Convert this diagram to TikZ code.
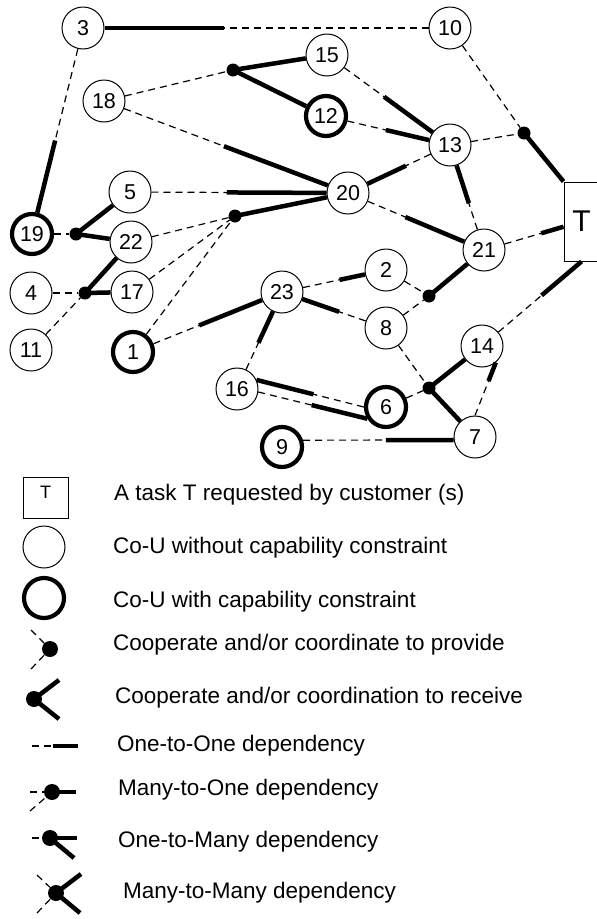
\documentclass[tikz,border=0pt]{standalone}
\usepackage{fontspec}
\setmainfont{Liberation Sans}
\usepackage{tikz}
\tikzset{
    % co-units, task box and junction dots
    unit/.style = {circle, draw, line width=1pt, minimum size=42pt, inner sep=0pt, font=\fontsize{21.5}{24}\selectfont},
    cunit/.style = {unit, line width=4.2pt, minimum size=40pt},
    task/.style = {rectangle, draw, line width=1pt, minimum width=35pt, minimum height=79pt, inner sep=0pt, font=\fontsize{30}{34}\selectfont},
    junction/.style = {circle, fill=black, inner sep=0pt, minimum size=13pt},
    keydot/.style = {junction, minimum size=16pt},
    % dependency lines
    weakdep/.style = {line width=1.2pt, dash pattern=on 7pt off 5pt},
    strongdep/.style = {line width=4.5pt},
    legendtext/.style = {anchor=west, inner sep=0pt, font=\fontsize{22.5}{26}\selectfont}
}

\begin{document}
\begin{tikzpicture}[x=1pt, y=-1pt]
\useasboundingbox (0,0) rectangle (597,919);

% Nodes
\node[unit] (unit_3) at (83,28) {3};
\node[unit] (unit_10) at (450,28) {10};
\node[unit] (unit_15) at (327,55) {15};
\node[unit] (unit_18) at (104,101) {18};
\node[cunit] (unit_12) at (326,116) {12};
\node[unit] (unit_13) at (450,145) {13};
\node[unit] (unit_20) at (348,193) {20};
\node[unit] (unit_5) at (130,192) {5};
\node[cunit] (unit_19) at (32,234) {19};
\node[unit] (unit_22) at (131,242) {22};
\node[unit] (unit_21) at (484,250) {21};
\node[task] (task_t) at (581.5,221.5) {T};
\node[unit] (unit_2) at (386,270) {2};
\node[unit] (unit_4) at (31,293) {4};
\node[unit] (unit_17) at (132,292) {17};
\node[unit] (unit_23) at (282,292) {23};
\node[unit] (unit_8) at (386,328) {8};
\node[unit] (unit_11) at (31,350) {11};
\node[cunit] (unit_1) at (133,352) {1};
\node[unit] (unit_14) at (482,346) {14};
\node[unit] (unit_16) at (237,389) {16};
\node[cunit] (unit_6) at (386,407) {6};
\node[unit] (unit_7) at (475,437) {7};
\node[cunit] (unit_9) at (282,447) {9};

\node[junction] (join_15_12) at (233,70) {};
\node[junction] (join_task) at (524,133) {};
\node[junction] (join_20) at (235,216) {};
\node[junction] (join_19) at (76,234) {};
\node[junction] (join_17) at (85,293) {};
\node[junction] (join_21) at (429,296) {};
\node[junction] (join_7) at (429,388) {};

% One-to-one dependencies
\draw[weakdep] (unit_10) -- coordinate[pos=0.63] (m_3_10) (unit_3);
\draw[strongdep] (m_3_10) -- (unit_3);
\draw[weakdep] (unit_3) -- coordinate[pos=0.56] (m_3_19) (unit_19);
\draw[strongdep] (m_3_19) -- (unit_19);
\draw[weakdep] (unit_18) -- coordinate[pos=0.49] (m_18_20) (unit_20);
\draw[strongdep] (m_18_20) -- (unit_20);
\draw[weakdep] (unit_15) -- coordinate[pos=0.45] (m_15_13) (unit_13);
\draw[strongdep] (m_15_13) -- (unit_13);
\draw[weakdep] (unit_12) -- coordinate[pos=0.47] (m_12_13) (unit_13);
\draw[strongdep] (m_12_13) -- (unit_13);
\draw[weakdep] (unit_13) -- coordinate[pos=0.39] (m_13_20) (unit_20);
\draw[strongdep] (m_13_20) -- (unit_20);
\draw[weakdep] (unit_21) -- coordinate[pos=0.41] (m_21_13) (unit_13);
\draw[strongdep] (m_21_13) -- (unit_13);
\draw[weakdep] (unit_5) -- coordinate[pos=0.43] (m_5_20) (unit_20);
\draw[strongdep] (m_5_20) -- (unit_20);
\draw[weakdep] (unit_20) -- coordinate[pos=0.39] (m_20_21) (unit_21);
\draw[strongdep] (m_20_21) -- (unit_21);
\draw[weakdep] (unit_21) -- coordinate[pos=0.62] (m_21_t) (task_t);
\draw[strongdep] (m_21_t) -- (task_t);
\draw[weakdep] (unit_1) -- coordinate[pos=0.42] (m_1_23) (unit_23);
\draw[strongdep] (m_1_23) -- (unit_23);
\draw[weakdep] (unit_23) -- coordinate[pos=0.59] (m_23_2) (unit_2);
\draw[strongdep] (m_23_2) -- (unit_2);
\draw[weakdep] (unit_8) -- coordinate[pos=0.42] (m_8_23) (unit_23);
\draw[strongdep] (m_8_23) -- (unit_23);
\draw[weakdep] (unit_16) -- coordinate[pos=0.46] (m_16_23) (unit_23);
\draw[strongdep] (m_16_23) -- (unit_23);
\draw[weakdep] (unit_14) -- coordinate[pos=0.52] (m_14_t) (task_t.south);
\draw[strongdep] (m_14_t) -- (task_t.south);
\draw[weakdep] (unit_6.180) -- coordinate[pos=0.47] (m_6_16) (unit_16.25);
\draw[strongdep] (m_6_16) -- (unit_16.25);
\draw[weakdep] (unit_16.-8) -- coordinate[pos=0.49] (m_16_6) (unit_6.212);
\draw[strongdep] (m_16_6) -- (unit_6.212);
\draw[weakdep] (unit_7.90) -- coordinate[pos=0.65] (m_7_14) (unit_14.-50);
\draw[strongdep] (m_7_14) -- (unit_14.-50);
\draw[weakdep] (unit_9.18) -- coordinate[pos=0.55] (m_9_7) (unit_7.188);
\draw[strongdep] (m_9_7) -- (unit_7.188);

% Junctions
\draw[weakdep] (unit_18) -- (join_15_12);
\draw[strongdep] (join_15_12.center) -- (unit_15);
\draw[strongdep] (join_15_12.center) -- (unit_12);
\draw[weakdep] (unit_10) -- (join_task);
\draw[weakdep] (unit_13) -- (join_task);
\draw[strongdep] (join_task.center) -- (task_t.north west);
\draw[weakdep] (unit_22) -- (join_20);
\draw[weakdep] (unit_17) -- (join_20);
\draw[weakdep] (unit_1) -- (join_20);
\draw[strongdep] (join_20.center) -- (unit_20);
\draw[weakdep] (unit_19) -- (join_19);
\draw[strongdep] (join_19.center) -- (unit_5);
\draw[strongdep] (join_19.center) -- (unit_22);
\draw[weakdep] (unit_4) -- (join_17);
\draw[weakdep] (unit_11) -- (join_17);
\draw[strongdep] (join_17.center) -- (unit_17);
\draw[strongdep] (join_17.center) -- (unit_22);
\draw[weakdep] (unit_2) -- (join_21);
\draw[weakdep] (unit_8) -- (join_21);
\draw[strongdep] (join_21.center) -- (unit_21);
\draw[weakdep] (unit_8) -- (join_7);
\draw[weakdep] (unit_6) -- (join_7);
\draw[strongdep] (join_7.center) -- (unit_14);
\draw[strongdep] (join_7.center) -- (unit_7);

% Legend
\node[draw, line width=1pt, minimum width=45pt, minimum height=41pt, inner sep=3pt, text height=18pt, text depth=17pt, font=\fontsize{18}{20}\selectfont] (key_task) at (45.5,497.5) {T};
\node[legendtext] (txt_task) at (114,495) {A task T requested by customer (s)};
\node[unit] (key_unit) at (44,547) {};
\node[legendtext] (txt_unit) at (113,548) {Co-U without capability constraint};
\node[cunit] (key_cunit) at (44,598) {};
\node[legendtext] (txt_cunit) at (113,602) {Co-U with capability constraint};
\node[keydot] (key_provide) at (50,649) {};
\draw[weakdep] (key_provide) ++(-19,-19) -- (key_provide);
\draw[weakdep] (key_provide) ++(-19,20) -- (key_provide);
\node[legendtext] (txt_provide) at (113,645) {Cooperate and/or coordinate to provide};
\node[keydot] (key_receive) at (34,699) {};
\draw[strongdep] (key_receive.center) -- ++(25,-19);
\draw[strongdep] (key_receive.center) -- ++(25,20);
\node[legendtext] (txt_receive) at (115,698) {Cooperate and/or coordination to receive};
\coordinate (key_one_one) at (32,746);
\draw[weakdep] (key_one_one) -- ++(21,0) coordinate (key_one_one_mid);
\draw[strongdep] (key_one_one_mid) -- ++(25,0);
\node[legendtext] (txt_one_one) at (117,746) {One-to-One dependency};
\node[keydot] (key_many_one) at (52,792) {};
\draw[weakdep] (key_many_one) ++(-22,0) -- (key_many_one);
\draw[weakdep] (key_many_one) ++(-22,19) -- (key_many_one);
\draw[strongdep] (key_many_one.center) -- ++(24,0);
\node[legendtext] (txt_many_one) at (118,790) {Many-to-One dependency};
\node[keydot] (key_one_many) at (50,838) {};
\draw[weakdep] (key_one_many) ++(-18,0) -- (key_one_many);
\draw[strongdep] (key_one_many.center) -- ++(27,0);
\draw[strongdep] (key_one_many.center) -- ++(24,20);
\node[legendtext] (txt_one_many) at (118,842) {One-to-Many dependency};
\node[keydot] (key_many_many) at (56,893) {};
\draw[weakdep] (key_many_many) ++(-19,-18) -- (key_many_many);
\draw[weakdep] (key_many_many) ++(-19,20) -- (key_many_many);
\draw[strongdep] (key_many_many.center) -- ++(25,-19);
\draw[strongdep] (key_many_many.center) -- ++(24,20);
\node[legendtext] (txt_many_many) at (123,893) {Many-to-Many dependency};

\end{tikzpicture}
\end{document}
